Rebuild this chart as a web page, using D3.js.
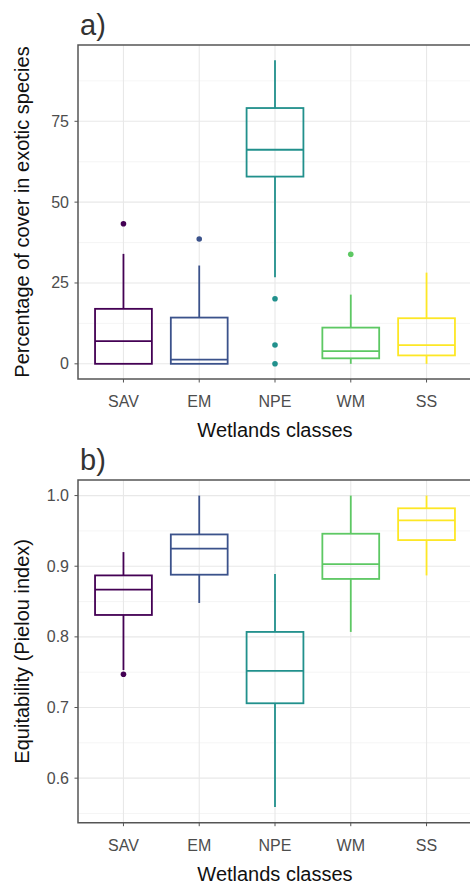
<!DOCTYPE html>
<html>
<head>
<meta charset="utf-8">
<script src="https://cdn.jsdelivr.net/npm/d3@7/dist/d3.min.js"></script>
<style>
  body { margin: 0; background: #fff; }
  text { font-family: "Liberation Sans", Arial, sans-serif; }
</style>
</head>
<body>
<div id="main"></div>
<script>
// **** data ****
var classes = ["SAV", "EM", "NPE", "WM", "SS"];
var colors = ["#440154", "#3B528B", "#21908C", "#5DC863", "#FDE725"];

// panel a) cover of exotic species: [lowWhisker, q1, median, q3, highWhisker]
var coverStats = [
  [0, 0, 7.0, 17.0, 34.0],
  [0, 0, 1.3, 14.3, 30.4],
  [26.8, 57.9, 66.2, 79.1, 93.9],
  [0, 1.7, 3.9, 11.2, 21.4],
  [0, 2.6, 5.8, 14.1, 28.2]
];
var coverOutliers = [[43.3], [38.6], [20.1, 5.8, 0], [33.9], []];
var coverTicks = [0, 25, 50, 75];
var coverMinor = [12.5, 37.5, 62.5, 87.5];

// panel b) Pielou equitability
var equitStats = [
  [0.753, 0.831, 0.867, 0.887, 0.920],
  [0.848, 0.888, 0.925, 0.945, 1.000],
  [0.559, 0.706, 0.752, 0.807, 0.889],
  [0.807, 0.882, 0.903, 0.946, 1.000],
  [0.887, 0.937, 0.965, 0.982, 1.000]
];
var equitOutliers = [[0.747], [], [], [], []];
var equitTicks = [0.6, 0.7, 0.8, 0.9, 1.0];
var equitMinor = [0.55, 0.65, 0.75, 0.85, 0.95];

var W = 470, H = 884;
var svg = d3.select("#main").append("svg")
    .attr("width", W).attr("height", H);

function drawPanel(opt) {
  var left = 78, right = 472;
  var top = opt.top, bottom = opt.bottom;

  // ggplot style 5% expansion of the data range
  var lo = d3.min(opt.stats, function(d){ return d[0]; });
  var hi = d3.max(opt.stats, function(d){ return d[4]; });
  opt.outliers.forEach(function(o){
    o.forEach(function(v){ lo = Math.min(lo, v); hi = Math.max(hi, v); });
  });
  var pad = (hi - lo) * 0.05;

  var x = d3.scalePoint().domain(classes).range([left, right]).padding(0.6);
  var y = d3.scaleLinear().domain([lo - pad, hi + pad]).range([bottom, top]);
  var bw = x.step() * 0.75;

  var g = svg.append("g");

  // grid
  g.selectAll(".minor").data(opt.minor).enter().append("line")
    .attr("x1", left).attr("x2", right)
    .attr("y1", function(d){ return y(d); }).attr("y2", function(d){ return y(d); })
    .style("stroke", "#f2f2f2").style("stroke-width", 0.8);
  g.selectAll(".major").data(opt.ticks).enter().append("line")
    .attr("x1", left).attr("x2", right)
    .attr("y1", function(d){ return y(d); }).attr("y2", function(d){ return y(d); })
    .style("stroke", "#e8e8e8").style("stroke-width", 1.1);
  g.selectAll(".vgrid").data(classes).enter().append("line")
    .attr("x1", function(d){ return x(d); }).attr("x2", function(d){ return x(d); })
    .attr("y1", top).attr("y2", bottom)
    .style("stroke", "#e8e8e8").style("stroke-width", 1.1);

  // boxes
  var boxes = g.selectAll(".box").data(opt.stats).enter().append("g");
  boxes.append("line")
    .attr("x1", function(d, i){ return x(classes[i]); })
    .attr("x2", function(d, i){ return x(classes[i]); })
    .attr("y1", function(d){ return y(d[3]); })
    .attr("y2", function(d){ return y(d[4]); })
    .style("stroke", function(d, i){ return colors[i]; }).style("stroke-width", 1.8);
  boxes.append("line")
    .attr("x1", function(d, i){ return x(classes[i]); })
    .attr("x2", function(d, i){ return x(classes[i]); })
    .attr("y1", function(d){ return y(d[0]); })
    .attr("y2", function(d){ return y(d[1]); })
    .style("stroke", function(d, i){ return colors[i]; }).style("stroke-width", 1.8);
  boxes.append("rect")
    .attr("x", function(d, i){ return x(classes[i]) - bw / 2; })
    .attr("width", bw)
    .attr("y", function(d){ return y(d[3]); })
    .attr("height", function(d){ return y(d[1]) - y(d[3]); })
    .style("fill", "none")
    .style("stroke", function(d, i){ return colors[i]; }).style("stroke-width", 1.8);
  boxes.append("line")
    .attr("x1", function(d, i){ return x(classes[i]) - bw / 2; })
    .attr("x2", function(d, i){ return x(classes[i]) + bw / 2; })
    .attr("y1", function(d){ return y(d[2]); })
    .attr("y2", function(d){ return y(d[2]); })
    .style("stroke", function(d, i){ return colors[i]; }).style("stroke-width", 1.8);

  // outliers
  opt.outliers.forEach(function(o, i){
    g.selectAll(".out" + i).data(o).enter().append("circle")
      .attr("cx", x(classes[i]))
      .attr("cy", function(d){ return y(d); })
      .attr("r", 2.8)
      .style("fill", colors[i]);
  });

  // panel border (top, left, bottom)
  g.append("path")
    .attr("d", "M" + right + "," + top + "H" + left + "V" + bottom + "H" + right)
    .style("fill", "none").style("stroke", "#555").style("stroke-width", 1.5);

  // y axis ticks + labels
  g.selectAll(".ytick").data(opt.ticks).enter().append("line")
    .attr("x1", left - 3.5).attr("x2", left)
    .attr("y1", function(d){ return y(d); }).attr("y2", function(d){ return y(d); })
    .style("stroke", "#555").style("stroke-width", 1);
  g.selectAll(".ylab").data(opt.ticks).enter().append("text")
    .attr("x", left - 9)
    .attr("y", function(d){ return y(d) + 5.5; })
    .attr("text-anchor", "end")
    .style("font-size", "16px").style("fill", "#4d4d4d")
    .text(opt.fmt);

  // x axis ticks + labels
  g.selectAll(".xtick").data(classes).enter().append("line")
    .attr("x1", function(d){ return x(d); }).attr("x2", function(d){ return x(d); })
    .attr("y1", bottom).attr("y2", bottom + 3.5)
    .style("stroke", "#555").style("stroke-width", 1);
  g.selectAll(".xlab").data(classes).enter().append("text")
    .attr("x", function(d){ return x(d); })
    .attr("y", bottom + 28)
    .attr("text-anchor", "middle")
    .style("font-size", "16px").style("fill", "#4d4d4d")
    .text(function(d){ return d; });

  // titles
  g.append("text")
    .attr("x", (left + right) / 2)
    .attr("y", bottom + 58)
    .attr("text-anchor", "middle")
    .style("font-size", "20px").style("fill", "#111")
    .text("Wetlands classes");
  g.append("text")
    .attr("transform", "translate(29," + ((top + bottom) / 2) + ") rotate(-90)")
    .attr("text-anchor", "middle")
    .style("font-size", "20px").style("fill", "#111")
    .text(opt.ytitle);
  g.append("text")
    .attr("x", 80).attr("y", top - 10)
    .style("font-size", "29px").style("fill", "#333")
    .text(opt.tag);
}

drawPanel({
  top: 45, bottom: 379,
  stats: coverStats, outliers: coverOutliers,
  ticks: coverTicks, minor: coverMinor,
  fmt: function(d){ return d; },
  ytitle: "Percentage of cover in exotic species",
  tag: "a)"
});

drawPanel({
  top: 480, bottom: 822.7,
  stats: equitStats, outliers: equitOutliers,
  ticks: equitTicks, minor: equitMinor,
  fmt: function(d){ return d3.format(".1f")(d); },
  ytitle: "Equitability (Pielou index)",
  tag: "b)"
});
</script>
</body>
</html>
